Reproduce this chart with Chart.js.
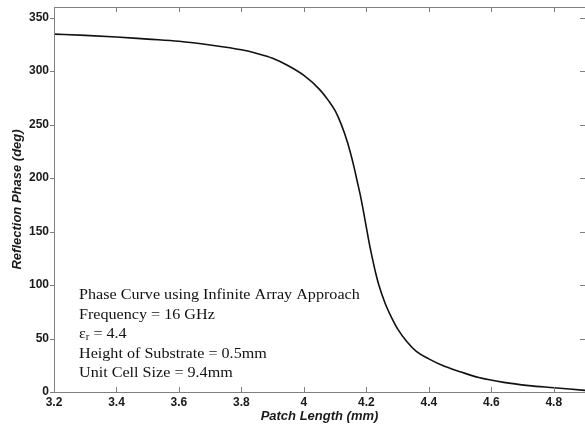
<!DOCTYPE html>
<html>
<head>
<meta charset="utf-8">
<script src="https://cdn.jsdelivr.net/npm/chart.js@4/dist/chart.umd.min.js"></script>
<style>
  html, body { margin: 0; padding: 0; background: #fff; }
  #wrap { width: 585px; height: 428px; }
</style>
</head>
<body>
<div id="wrap"><canvas id="chart" width="585" height="428"></canvas></div>
<script>
'use strict';

// patch length (mm) vs reflection phase (deg)
var patchLength = [3.2, 3.3, 3.4, 3.5, 3.6, 3.7, 3.8, 3.85, 3.9, 3.95,
    4.0, 4.05, 4.08, 4.1, 4.12, 4.14, 4.16, 4.17, 4.18, 4.19,
    4.2, 4.21, 4.22, 4.23, 4.24, 4.26, 4.28, 4.3, 4.33, 4.36,
    4.4, 4.45, 4.5, 4.56, 4.64, 4.72, 4.8, 4.9];
var reflectionPhase = [334.6, 333.5, 332, 330, 328, 324.5, 320, 316.5, 312, 305,
    296, 283, 272, 263, 250, 233, 211, 198, 185, 170,
    154, 138, 124, 111, 100, 83, 70, 59, 47, 38,
    31, 24, 19, 13.5, 9, 6, 4, 1.5];

var xTicks = [3.2, 3.4, 3.6, 3.8, 4.0, 4.2, 4.4, 4.6, 4.8];
var xTickLabels = ['3.2', '3.4', '3.6', '3.8', '4', '4.2', '4.4', '4.6', '4.8'];
var yTicks = [0, 50, 100, 150, 200, 250, 300, 350];
var yTickLabels = ['0', '50', '100', '150', '200', '250', '300', '350'];

var noteLines = [
    'Phase Curve using Infinite Array Approach',
    'Frequency = 16 GHz',
    ['\u03b5', 'r', ' = 4.4'],
    'Height of Substrate = 0.5mm',
    'Unit Cell Size = 9.4mm'
];

var AXIS_GRAY = '#808080',
    NOTE_FONT = '15px "Liberation Serif", "Times New Roman", serif',
    SUB_FONT = '10px "Liberation Serif", "Times New Roman", serif',
    TICK_FONT = {family: 'Arial, "Liberation Sans", sans-serif', size: 12, weight: 'bold'},
    TITLE_FONT = {family: 'Arial, "Liberation Sans", sans-serif', size: 13, weight: 'bold', style: 'italic'};

// box with matlab style tick marks
var framePlugin = {
    id: 'frame',
    afterDatasetsDraw: function(chart) {
        var ctx = chart.ctx,
            a = chart.chartArea,
            xs = chart.scales.x,
            ys = chart.scales.y;
        ctx.save();
        ctx.strokeStyle = AXIS_GRAY;
        ctx.lineWidth = 1;
        ctx.strokeRect(a.left + 0.5, a.top + 0.5, a.right - a.left, a.bottom - a.top);
        ctx.beginPath();
        xTicks.forEach(function(v) {
            var px = Math.round(xs.getPixelForValue(v)) + 0.5;
            ctx.moveTo(px, a.bottom);
            ctx.lineTo(px, a.bottom - 5);
            ctx.moveTo(px, a.top);
            ctx.lineTo(px, a.top + 5);
        });
        yTicks.forEach(function(v) {
            var py = Math.round(ys.getPixelForValue(v)) + 0.5;
            ctx.moveTo(a.left, py);
            ctx.lineTo(a.left - 4, py);
            ctx.moveTo(a.right, py);
            ctx.lineTo(a.right - 5, py);
        });
        ctx.stroke();
        ctx.restore();
    }
};

// text box in the lower left of the plot
var notePlugin = {
    id: 'note',
    afterDraw: function(chart) {
        var ctx = chart.ctx,
            a = chart.chartArea,
            x0 = a.left + 25,
            y0 = a.top + 292,
            step = 19.5;
        ctx.save();
        ctx.fillStyle = '#111';
        ctx.textBaseline = 'alphabetic';
        // the original serif is a little wider than Liberation Serif
        ctx.translate(x0, 0);
        ctx.scale(1.075, 1);
        noteLines.forEach(function(line, i) {
            var y = y0 + i * step;
            ctx.font = NOTE_FONT;
            if (typeof line === 'string') {
                ctx.fillText(line, 0, y);
                return;
            }
            var x = 0;
            ctx.fillText(line[0], x, y);
            x += ctx.measureText(line[0]).width;
            ctx.font = SUB_FONT;
            ctx.fillText(line[1], x, y + 2);
            x += ctx.measureText(line[1]).width;
            ctx.font = NOTE_FONT;
            ctx.fillText(line[2], x, y);
        });
        ctx.restore();
    }
};

new Chart(document.getElementById('chart'), {
    type: 'line',
    data: {
        datasets: [{
            data: patchLength.map(function(x, i) {
                return {x: x, y: reflectionPhase[i]};
            }),
            borderColor: '#111',
            borderWidth: 1.6,
            pointRadius: 0,
            fill: false,
            cubicInterpolationMode: 'monotone'
        }]
    },
    options: {
        responsive: false,
        animation: false,
        layout: {padding: {top: 7, right: -3, left: 0, bottom: 0}},
        plugins: {
            legend: {display: false},
            tooltip: {enabled: false}
        },
        scales: {
            x: {
                type: 'linear',
                min: 3.2,
                max: 4.9,
                grid: {display: false, drawTicks: false},
                border: {display: false},
                afterBuildTicks: function(scale) {
                    scale.ticks = xTicks.map(function(v) { return {value: v}; });
                },
                afterFit: function(scale) {
                    scale.height = 36;
                    scale.paddingLeft = 0;
                    scale.paddingRight = 0;
                },
                ticks: {
                    color: '#1a1a1a',
                    font: TICK_FONT,
                    padding: 3,
                    maxRotation: 0,
                    autoSkip: false,
                    callback: function(v, i) { return xTickLabels[i]; }
                },
                title: {
                    display: true,
                    text: 'Patch Length (mm)',
                    color: '#1a1a1a',
                    font: TITLE_FONT,
                    padding: {top: 0, bottom: 4}
                }
            },
            y: {
                type: 'linear',
                min: 0,
                max: 360,
                grid: {display: false, drawTicks: false},
                border: {display: false},
                afterBuildTicks: function(scale) {
                    scale.ticks = yTicks.map(function(v) { return {value: v}; });
                },
                afterFit: function(scale) {
                    scale.width = 54;
                    scale.paddingTop = 0;
                    scale.paddingBottom = 0;
                },
                ticks: {
                    color: '#1a1a1a',
                    font: TICK_FONT,
                    padding: 5,
                    autoSkip: false,
                    callback: function(v, i) { return yTickLabels[i]; }
                },
                title: {
                    display: true,
                    text: 'Reflection Phase (deg)',
                    color: '#1a1a1a',
                    font: TITLE_FONT,
                    padding: {top: 10, bottom: 0}
                }
            }
        }
    },
    plugins: [framePlugin, notePlugin]
});
</script>
</body>
</html>
